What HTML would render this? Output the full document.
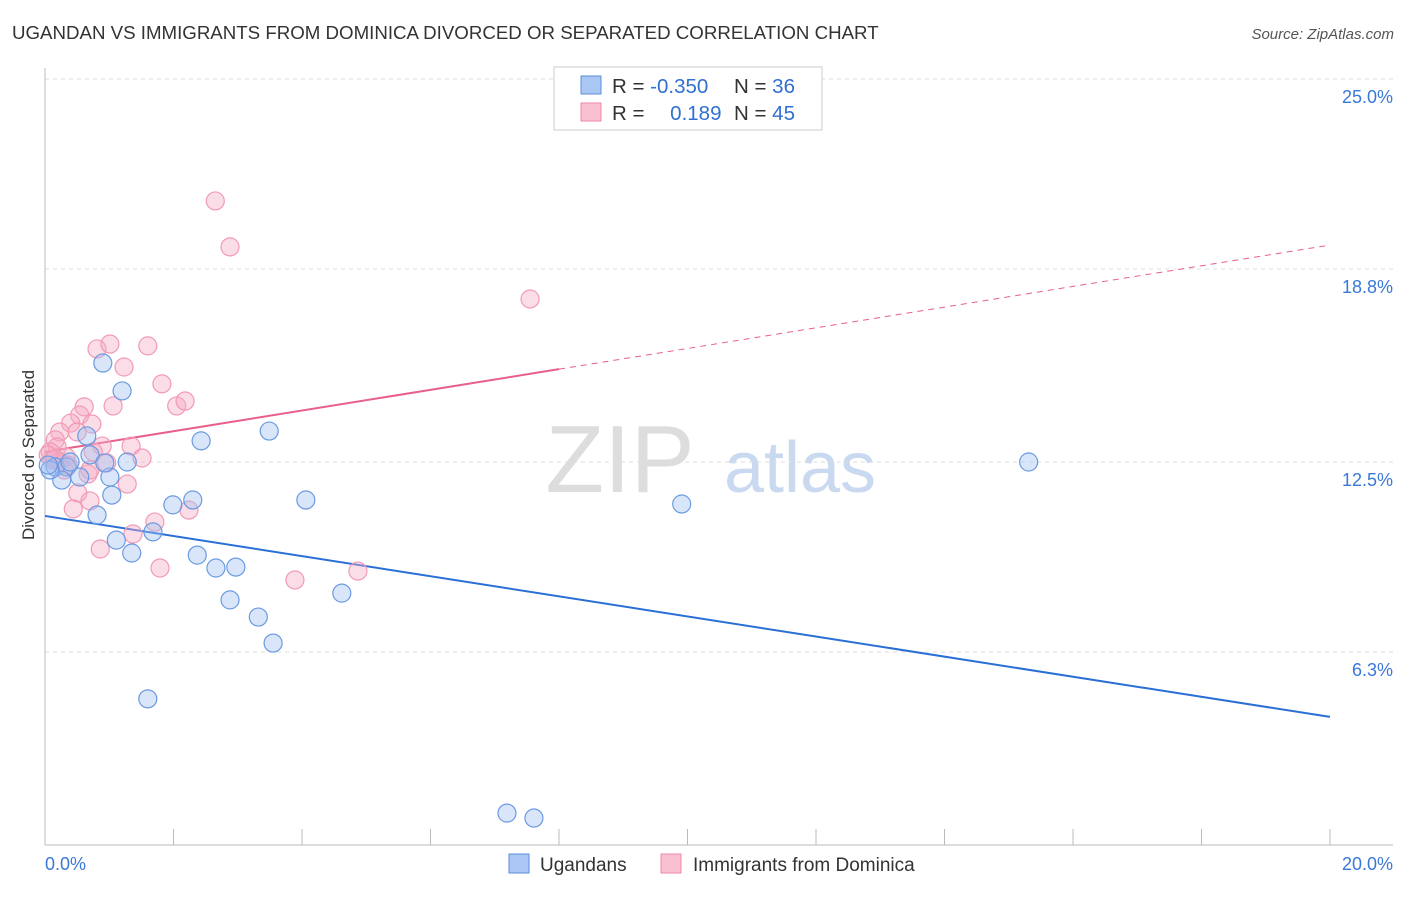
<!DOCTYPE html>
<html><head><meta charset="utf-8"><style>
body{margin:0;background:#fff;font-family:"Liberation Sans",sans-serif}
svg text{font-family:"Liberation Sans",sans-serif}
</style></head><body>
<svg width="1406" height="892" xmlns="http://www.w3.org/2000/svg">
<text x="12" y="39" font-size="18.7" fill="#333">UGANDAN VS IMMIGRANTS FROM DOMINICA DIVORCED OR SEPARATED CORRELATION CHART</text>
<text x="1394" y="39" font-size="15" fill="#555" font-style="italic" text-anchor="end">Source: ZipAtlas.com</text>
<text x="620" y="492" font-size="96" fill="#ddd" font-family="Liberation Serif" text-anchor="middle">ZIP</text>
<text x="800" y="492" font-size="72" fill="#c9d9f0" text-anchor="middle">atlas</text>
<text transform="translate(34,455) rotate(-90)" font-size="17" fill="#333" text-anchor="middle">Divorced or Separated</text>
<g id="grid"></g><g id="axes"></g><g id="trend"></g><g id="pts"></g>
<g>
<rect x="554" y="67" width="268" height="63" fill="#fff" stroke="#ccc"/>
<rect x="581" y="76" width="20" height="18" fill="#aac6f2" stroke="#5b8fe0"/>
<rect x="581" y="103" width="20" height="18" fill="#f8c0d0" stroke="#f08aa8"/>
<text x="612" y="93" font-size="20.5" fill="#333">R = <tspan fill="#3070d0">-0.350</tspan></text>
<text x="734" y="93" font-size="20.5" fill="#333">N = <tspan fill="#3070d0">36</tspan></text>
<text x="612" y="120" font-size="20.5" fill="#333">R = <tspan fill="#3070d0" dx="20">0.189</tspan></text>
<text x="734" y="120" font-size="20.5" fill="#333">N = <tspan fill="#3070d0">45</tspan></text>
</g>
<g>
<rect x="509" y="854" width="20" height="19" fill="#aac6f2" stroke="#5b8fe0"/>
<text x="540" y="871" font-size="19" fill="#333">Ugandans</text>
<rect x="661" y="854" width="20" height="19" fill="#f8c0d0" stroke="#f08aa8"/>
<text x="693" y="871" font-size="19" fill="#333">Immigrants from Dominica</text>
</g>
</svg>
<script>
const yTicks=[25.0,18.8,12.5,6.3];
const yTickLabels=["25.0%","18.8%","12.5%","6.3%"];
const xTickLabels=["0.0%","20.0%"];
const blueX=[.90,1.20,.65,2.43,3.49,1.28,.16,.34,.54,1.01,1.04,.26,.81,1.99,2.30,4.06,9.91,1.68,1.11,1.35,2.37,2.66,2.97,2.88,3.32,4.62,3.55,1.60,7.19,7.61,15.31,.08,.39,.70,.93,.05];
const blueY=[15.73,14.82,13.35,13.19,13.51,12.50,12.34,12.34,12.01,12.01,11.42,11.91,10.77,11.10,11.26,11.26,11.13,10.22,9.95,9.53,9.46,9.04,9.07,8.00,7.44,8.22,6.59,4.77,1.04,.88,12.50,12.24,12.5,12.73,12.47,12.4];
const pinkX=[2.65,2.88,7.55,.81,1.01,1.60,1.23,1.82,1.06,2.05,2.18,.61,.54,.40,.73,.23,.50,.16,1.34,.89,.19,.75,1.51,.33,.96,.67,1.28,.51,.70,.44,1.71,2.24,1.37,.86,1.79,3.89,4.87,.08,.11,.30,.23,.05,.36,.70,.15];
const pinkY=[21.02,19.52,17.82,16.19,16.35,16.29,15.6,15.05,14.33,14.33,14.49,14.3,14.03,13.77,13.74,13.48,13.48,13.22,13.02,13.02,12.99,12.83,12.63,12.66,12.47,12.11,11.78,11.49,11.23,10.97,10.54,10.93,10.15,9.66,9.04,8.65,8.94,12.83,12.57,12.24,12.5,12.73,12.4,12.24,12.6];
const blueTrend=[10.74,-0.328];
const pinkTrend=[12.83,0.3375];
const NS='http://www.w3.org/2000/svg';
const X=v=>45+v/20*1285, Y=v=>845-v/25*766;
function mk(t,a,p){const e=document.createElementNS(NS,t);for(const k in a)e.setAttribute(k,a[k]);p.appendChild(e);return e;}
const grid=document.getElementById('grid'),axes=document.getElementById('axes'),trend=document.getElementById('trend'),pts=document.getElementById('pts');
yTicks.forEach((v,i)=>{
 const l=mk('line',{x1:45,x2:1393,y1:Y(v),y2:Y(v),stroke:'#ddd','stroke-dasharray':'4,4'},grid);
 
 
 const t=mk('text',{x:1393,y:Y(v)+24,'font-size':18,fill:'#3a78d8','text-anchor':'end'},grid);t.textContent=yTickLabels[i];
 
 
});
const ax=mk('line',{x1:45,x2:1393,y1:845,y2:845,stroke:'#bbb'},axes);


const ay=mk('line',{x1:45,x2:45,y1:68,y2:845,stroke:'#bbb'},axes);


for(let i=0;i<=10;i++){const tk=mk('line',{x1:X(i*2),x2:X(i*2),y1:829,y2:845,stroke:'#bbb'},axes);
 
 }
[[0,'start',45],[20,'end',1393]].forEach((d,i)=>{const t=mk('text',{x:d[2],y:870,'font-size':18,fill:'#3a78d8','text-anchor':d[1]},axes);t.textContent=xTickLabels[i];
 
 });
const tb=mk('line',{x1:X(0),y1:Y(blueTrend[0]),x2:X(20),y2:Y(blueTrend[0]+20*blueTrend[1]),stroke:'#2a6fd6','stroke-width':2},trend);


const tp=mk('line',{x1:X(0),y1:Y(pinkTrend[0]),x2:X(8),y2:Y(pinkTrend[0]+8*pinkTrend[1]),stroke:'#e8608a','stroke-width':2},trend);


const td=mk('line',{x1:X(8),y1:Y(pinkTrend[0]+8*pinkTrend[1]),x2:X(20),y2:Y(pinkTrend[0]+20*pinkTrend[1]),stroke:'#e8608a','stroke-width':1,'stroke-dasharray':'6,5'},trend);


pinkX.forEach((x,i)=>{const c=mk('circle',{cx:X(x),cy:Y(pinkY[i]),r:9,fill:'rgba(246,170,195,0.4)',stroke:'#f29ab5','stroke-width':1.2},pts);
 
 });
blueX.forEach((x,i)=>{const c=mk('circle',{cx:X(x),cy:Y(blueY[i]),r:9,fill:'rgba(160,192,242,0.4)',stroke:'#6a9ae2','stroke-width':1.2},pts);
 
 });
</script>
</body></html>
